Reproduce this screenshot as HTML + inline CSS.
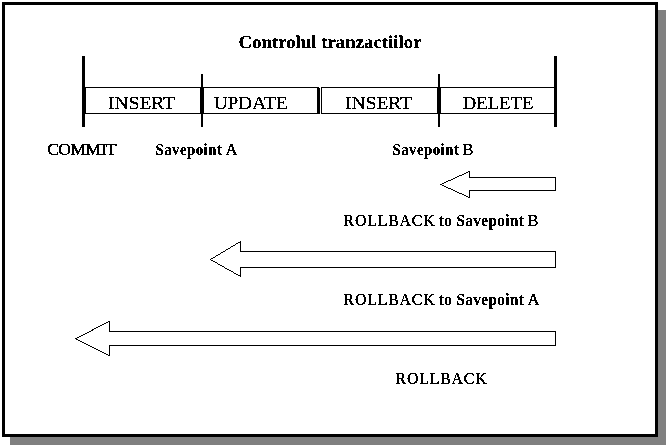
<!DOCTYPE html>
<html lang="ro">
<head>
<meta charset="utf-8">
<title>Controlul tranzactiilor</title>
<style>
html,body{margin:0;padding:0;background:#fff;}
body{width:668px;height:447px;overflow:hidden;position:relative;}
svg{position:absolute;left:0;top:0;display:block;}
text{font-family:"Liberation Serif","Times New Roman",serif;fill:#000;white-space:pre;}
.tb{font-size:18.3px;font-weight:bold;text-rendering:geometricPrecision;stroke:#000;stroke-width:0.2px;}
.t{font-size:18.3px;text-rendering:geometricPrecision;stroke:#000;stroke-width:0.22px;}
.s{font-size:16px;}
.b{font-weight:bold;letter-spacing:0.5px;stroke:#000;stroke-width:0.2px;}
.r{font-weight:normal;stroke:#000;stroke-width:0.33px;letter-spacing:0;}
.w{letter-spacing:0.8px;}
.c{letter-spacing:-0.5px;}
</style>
</head>
<body>
<svg width="668" height="447" viewBox="0 0 668 447">
  <defs>
    <filter id="bw" filterUnits="userSpaceOnUse" x="0" y="0" width="668" height="447" color-interpolation-filters="sRGB">
      <feComponentTransfer><feFuncA type="discrete" tableValues="0 1"/></feComponentTransfer>
    </filter>
  </defs>
  <!-- drop shadow + frame -->
  <rect x="10" y="10" width="656" height="435" fill="#808080" shape-rendering="crispEdges"/>
  <rect x="3.5" y="3.5" width="653" height="432" fill="#fff" stroke="#000" stroke-width="3" shape-rendering="crispEdges"/>

  <!-- timeline -->
  <g shape-rendering="crispEdges" fill="#000">
    <rect x="82" y="56" width="3" height="71"/>
    <rect x="554" y="56" width="3" height="71"/>
    <rect x="201" y="74" width="2" height="53"/>
    <rect x="438" y="74" width="2" height="53"/>
    <rect x="85" y="87" width="469" height="1"/>
    <rect x="85" y="113" width="469" height="1"/>
    <rect x="85" y="87" width="1" height="27"/>
    <rect x="200" y="87" width="4" height="27"/>
    <rect x="317" y="88" width="3" height="26"/>
    <rect x="321" y="87" width="1" height="27"/>
    <rect x="437" y="87" width="4" height="27"/>
    <rect x="319" y="87" width="2" height="1" fill="#fff"/>
    <rect x="320" y="87" width="1" height="27" fill="#fff"/>
  </g>

  <!-- arrows -->
  <g fill="#000" shape-rendering="crispEdges">
    <path d="M468 171h2v1h-2zM466 172h2v1h-2zM464 173h2v1h-2zM462 174h2v1h-2zM459 175h3v1h-3zM457 176h2v1h-2zM455 177h2v1h-2zM453 178h2v1h-2zM451 179h2v1h-2zM448 180h3v1h-3zM446 181h2v1h-2zM444 182h2v1h-2zM442 183h2v1h-2zM440 184h2v1h-2zM440 184h2v1h-2zM442 185h2v1h-2zM444 186h2v1h-2zM446 187h2v1h-2zM448 188h3v1h-3zM451 189h2v1h-2zM453 190h2v1h-2zM455 191h2v1h-2zM457 192h2v1h-2zM459 193h3v1h-3zM462 194h2v1h-2zM464 195h2v1h-2zM466 196h2v1h-2zM468 197h2v1h-2zM469 171h1v7h-1zM469 190h1v8h-1zM469 177h87v1h-87zM469 190h87v1h-87zM555 177h1v14h-1z"/>
    <path d="M240 241h1v1h-1zM238 242h2v1h-2zM236 243h2v1h-2zM235 244h1v1h-1zM233 245h2v1h-2zM231 246h2v1h-2zM230 247h1v1h-1zM228 248h2v1h-2zM226 249h2v1h-2zM225 250h1v1h-1zM223 251h2v1h-2zM221 252h2v1h-2zM220 253h1v1h-1zM218 254h2v1h-2zM216 255h2v1h-2zM215 256h1v1h-1zM213 257h2v1h-2zM211 258h2v1h-2zM210 259h1v1h-1zM210 259h1v1h-1zM211 260h2v1h-2zM213 261h2v1h-2zM215 262h2v1h-2zM217 263h1v1h-1zM218 264h2v1h-2zM220 265h2v1h-2zM222 266h2v1h-2zM224 267h1v1h-1zM225 268h2v1h-2zM227 269h2v1h-2zM229 270h2v1h-2zM231 271h2v1h-2zM233 272h1v1h-1zM234 273h2v1h-2zM236 274h2v1h-2zM238 275h2v1h-2zM240 276h1v1h-1zM240 241h1v11h-1zM240 267h1v10h-1zM240 251h316v1h-316zM240 267h316v1h-316zM555 251h1v17h-1z"/>
    <path d="M108 321h2v1h-2zM106 322h2v1h-2zM104 323h2v1h-2zM102 324h2v1h-2zM100 325h2v1h-2zM98 326h2v1h-2zM96 327h2v1h-2zM94 328h2v1h-2zM92 329h2v1h-2zM91 330h2v1h-2zM89 331h2v1h-2zM87 332h2v1h-2zM85 333h2v1h-2zM83 334h2v1h-2zM81 335h2v1h-2zM79 336h2v1h-2zM77 337h2v1h-2zM75 338h2v1h-2zM75 338h1v1h-1zM76 339h2v1h-2zM78 340h2v1h-2zM80 341h2v1h-2zM82 342h2v1h-2zM84 343h2v1h-2zM86 344h2v1h-2zM88 345h2v1h-2zM90 346h2v1h-2zM92 347h2v1h-2zM94 348h2v1h-2zM96 349h2v1h-2zM98 350h2v1h-2zM100 351h2v1h-2zM102 352h2v1h-2zM104 353h2v1h-2zM106 354h2v1h-2zM108 355h2v1h-2zM109 321h1v11h-1zM109 345h1v11h-1zM109 331h447v1h-447zM109 345h447v1h-447zM555 331h1v15h-1z"/>
  </g>

  <!-- text -->
  <g filter="url(#bw)">
    <text class="tb" x="238.5" y="48" textLength="183" lengthAdjust="spacingAndGlyphs">Controlul tranzactiilor</text>
    <text class="t" x="108.1" y="109" textLength="67" lengthAdjust="spacingAndGlyphs">INSERT</text>
    <text class="t" x="213.7" y="109" textLength="74" lengthAdjust="spacingAndGlyphs">UPDATE</text>
    <text class="t" x="345.1" y="109" textLength="67" lengthAdjust="spacingAndGlyphs">INSERT</text>
    <text class="t" x="462.7" y="109" textLength="70.75" lengthAdjust="spacingAndGlyphs">DELETE</text>
    <text class="s r c" x="47.2" y="155" textLength="69" lengthAdjust="spacingAndGlyphs">COMMIT</text>
    <text class="s" y="155"><tspan class="b" x="155.5" textLength="71" lengthAdjust="spacingAndGlyphs">Savepoint </tspan><tspan class="r" x="225.5" textLength="12" lengthAdjust="spacingAndGlyphs">A</tspan></text>
    <text class="s" y="155"><tspan class="b" x="392.5" textLength="71" lengthAdjust="spacingAndGlyphs">Savepoint </tspan><tspan class="r" x="462.5" textLength="11" lengthAdjust="spacingAndGlyphs">B</tspan></text>
    <text class="s" y="226"><tspan class="r w" x="343.5" textLength="92" lengthAdjust="spacingAndGlyphs">ROLLBACK</tspan><tspan class="b" x="434.5" textLength="94" lengthAdjust="spacingAndGlyphs"> to Savepoint </tspan><tspan class="r" x="527.5" textLength="11" lengthAdjust="spacingAndGlyphs">B</tspan></text>
    <text class="s" y="305"><tspan class="r w" x="343.5" textLength="92" lengthAdjust="spacingAndGlyphs">ROLLBACK</tspan><tspan class="b" x="434.5" textLength="94" lengthAdjust="spacingAndGlyphs"> to Savepoint </tspan><tspan class="r" x="527.5" textLength="12" lengthAdjust="spacingAndGlyphs">A</tspan></text>
    <text class="s r w" x="395.5" y="384" textLength="92" lengthAdjust="spacingAndGlyphs">ROLLBACK</text>
  </g>
</svg>
</body>
</html>
